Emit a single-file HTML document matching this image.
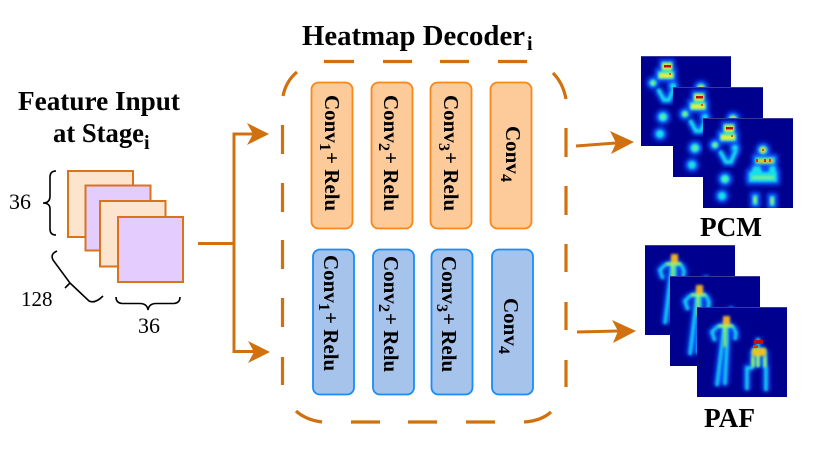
<!DOCTYPE html>
<html><head><meta charset="utf-8"><style>
html,body{margin:0;padding:0;background:#fff}
svg{display:block}
text{font-family:"Liberation Serif",serif;fill:#000}
.b{font-weight:bold}
.c{font-weight:bold;font-size:21px}
.s{font-weight:bold;font-size:16px}
</style></head><body>
<svg width="813" height="463" viewBox="0 0 813 463" xmlns="http://www.w3.org/2000/svg">
<defs>
<filter id="bl" x="-50%" y="-50%" width="200%" height="200%"><feGaussianBlur stdDeviation="1.200"/></filter>
<filter id="bl2" x="-50%" y="-50%" width="200%" height="200%"><feGaussianBlur stdDeviation="2"/></filter>
<clipPath id="cp"><rect width="90" height="90"/></clipPath>
<g id="pcmDots">
<rect x="21" y="6" width="10" height="9"/><rect x="17" y="15" width="16" height="8"/>
<circle cx="12" cy="27" r="3.500"/><circle cx="32" cy="30" r="3"/>
<circle cx="22" cy="61" r="4.500"/><circle cx="19" cy="78" r="4"/>
<circle cx="60" cy="32" r="4.500"/><rect x="52" y="39" width="20" height="7"/><rect x="46" y="54" width="28" height="10"/><path d="M51 48H57L60 56L65 56L67 48H72L74 58H46Z"/>
<rect x="50" y="77" width="4.500" height="10"/><rect x="67" y="78" width="4.500" height="10"/>
</g>
<g id="pcm">
<rect width="90" height="90" fill="#00008f"/>
<g clip-path="url(#cp)">
<use href="#pcmDots" fill="#0a55ff" stroke="#0a55ff" stroke-width="6" filter="url(#bl2)"/>
<path d="M17 33L23 44H28L33 32" fill="none" stroke="#0a60ff" stroke-width="8" filter="url(#bl2)"/>
<use href="#pcmDots" fill="#12dfe8" filter="url(#bl)"/>
<path d="M17 33L23 44H28L33 32" fill="none" stroke="#12dfe8" stroke-width="3.500" filter="url(#bl)"/>
<g filter="url(#bl)">
<rect x="21" y="7" width="10" height="7" fill="#d8e83a"/><rect x="18" y="17" width="14" height="5" fill="#e8ee3a"/>
<circle cx="22" cy="61" r="2.500" fill="#65f0a0"/><circle cx="12" cy="27" r="2" fill="#9bee70"/>
<circle cx="60" cy="32" r="3" fill="#f0d020"/><rect x="54" y="41" width="16" height="4" fill="#f2c020"/>
<rect x="49" y="58" width="22" height="3" fill="#80f090"/>
<rect x="51" y="79" width="2" height="6" fill="#e8e830"/><rect x="68" y="80" width="2" height="6" fill="#e8e830"/>
</g>
<rect x="23" y="9" width="7" height="2.500" fill="#c01010"/><rect x="28" y="17" width="2" height="2" fill="#e06010"/>
<circle cx="60" cy="32" r="1" fill="#d03010"/><rect x="53" y="41" width="2" height="3" fill="#d03010"/><rect x="61" y="41" width="2" height="3" fill="#d03010"/><rect x="66" y="41" width="2" height="3" fill="#e04010"/>
</g>
<path d="M0 0.500H90" stroke="#3a3a9a" stroke-width="1"/>
</g>
<g id="pafLines" fill="none">
<path d="M29 13V18M21 19H36M21 19L15 25L18 34M36 19L39 26L38 33M27 20L25 38L20 79M30 20L30 38L28 78"/>
<path d="M61 31V42M56 43H68M56 43V61M68 43V61M56 61H50V83M68 61H69V84M61 43V60"/>
</g>
<g id="paf">
<rect width="90" height="90" fill="#00008f"/>
<g clip-path="url(#cp)">
<use href="#pafLines" stroke="#0a55ff" stroke-width="7" filter="url(#bl2)"/>
<use href="#pafLines" stroke="#14dce8" stroke-width="2.800" filter="url(#bl)"/>
<g filter="url(#bl)">
<rect x="26" y="9" width="7" height="9" fill="#f0b020"/><path d="M21 19H36M28 20V40" stroke="#a8ee60" stroke-width="2.500" fill="none"/>
<rect x="55" y="41" width="14" height="8" fill="#f0c020"/><path d="M56 50V60M68 50V60M61 48V60" stroke="#b8ee50" stroke-width="2.500" fill="none"/>
</g>
<rect x="57" y="33" width="9" height="4" fill="#c01010"/><rect x="56" y="38" width="5" height="3" fill="#e03010"/>
</g>
<path d="M0 0.500H90" stroke="#3a3a9a" stroke-width="1"/>
</g>
</defs>

<!-- titles -->
<text class="b" x="302" y="45" font-size="28.500" textLength="223" lengthAdjust="spacingAndGlyphs">Heatmap Decoder</text>
<text class="b" x="527" y="50" font-size="20">i</text>
<text class="b" x="18" y="110" font-size="27" textLength="162" lengthAdjust="spacingAndGlyphs">Feature Input</text>
<text class="b" x="53" y="142" font-size="27" textLength="91" lengthAdjust="spacingAndGlyphs">at Stage</text>
<text class="b" x="144" y="149" font-size="20">i</text>

<!-- feature stack -->
<g stroke="#d9741a" stroke-width="2">
<rect x="68" y="171" width="65" height="66" fill="#fde4cf"/>
<rect x="85.500" y="185.500" width="65" height="65" fill="#e4ccff"/>
<rect x="100" y="201" width="65.500" height="65.500" fill="#fde4cf"/>
<rect x="118" y="217" width="65" height="65" fill="#e4ccff"/>
</g>
<g fill="none" stroke="#000" stroke-width="1.600">
<path d="M56 171Q50 171 50 177V196Q50 203 43 203Q50 203 50 209V229Q50 235 56 235"/>
<path d="M57 251Q50 254 53 260L70 283L65 288M70 283L89 301Q95 304 103 296"/>
<path d="M116 297Q116 303 122 303.500H140Q147 303.500 148 310Q149 303.500 156 303.500H174Q180 303 180 297"/>
</g>
<text x="9" y="209" font-size="22">36</text>
<text x="21" y="306" font-size="21">128</text>
<text x="138" y="333" font-size="22">36</text>

<!-- arrows -->
<g fill="none" stroke="#d1700f" stroke-width="3">
<path d="M198 243.500H234"/>
<path d="M262 134H234V351.500H262"/>
<path d="M576 146L616 143"/>
<path d="M577 332L618 331"/>
</g>
<g fill="#d1700f">
<path d="M247 123L269 134L247 145L253 134Z"/>
<path d="M248 341L270 352L248 363L254 352Z"/>
<path d="M610 131L634 142L611 154L616 143Z"/>
<path d="M612 320L636 331L613 343L618 331Z"/>
</g>

<!-- dashed container -->
<g fill="none" stroke="#d1700f" stroke-width="3.200">
<path d="M297 72Q286 81 283 96"/>
<path d="M324 61.500H354M383 61.500H412M440 61.500H469M498 61.500H527"/>
<path d="M553 73Q563 83 566 99"/>
<path d="M282.500 125V154M282.500 183V212M282.500 240V269M282.500 298V327M282.500 357V385"/>
<path d="M566 128V157M566 186V215M566 244V272M566 302V330M566 360V387"/>
<path d="M296 411Q306 420 322 422M351 422H380M408 422H437M466 422H495M524 422Q541 421 551 412"/>
</g>

<!-- conv boxes -->
<g fill="#fdca9a" stroke="#f9871a" stroke-width="1.800">
<rect x="311.500" y="82.500" width="41" height="146" rx="7"/>
<rect x="371.500" y="82.500" width="41" height="146" rx="7"/>
<rect x="430.500" y="82.500" width="41" height="146" rx="7"/>
<rect x="490.500" y="82.500" width="41" height="146" rx="7"/>
</g>
<g fill="#a6c3ec" stroke="#1a8cf5" stroke-width="1.800">
<rect x="313" y="249.500" width="41" height="145" rx="7"/>
<rect x="373" y="249.500" width="41" height="145" rx="7"/>
<rect x="431.500" y="249.500" width="41" height="145" rx="7"/>
<rect x="492" y="249.500" width="41" height="145" rx="7"/>
</g>

<text class="c" transform="translate(325,95) rotate(90)">Conv</text>
<text class="s" transform="translate(320,143) rotate(90)">1</text>
<text class="c" transform="translate(325,152) rotate(90)">+ Relu</text>
<text class="c" transform="translate(384,95) rotate(90)">Conv</text>
<text class="s" transform="translate(379,143) rotate(90)">2</text>
<text class="c" transform="translate(384,152) rotate(90)">+ Relu</text>
<text class="c" transform="translate(444,95) rotate(90)">Conv</text>
<text class="s" transform="translate(439,143) rotate(90)">3</text>
<text class="c" transform="translate(444,152) rotate(90)">+ Relu</text>
<text class="c" transform="translate(506,126) rotate(90)">Conv</text>
<text class="s" transform="translate(501,174) rotate(90)">4</text>

<text class="c" transform="translate(324,255) rotate(90)">Conv</text>
<text class="s" transform="translate(319,303) rotate(90)">1</text>
<text class="c" transform="translate(324,312) rotate(90)">+ Relu</text>
<text class="c" transform="translate(384,256) rotate(90)">Conv</text>
<text class="s" transform="translate(379,304) rotate(90)">2</text>
<text class="c" transform="translate(384,313) rotate(90)">+ Relu</text>
<text class="c" transform="translate(442,256) rotate(90)">Conv</text>
<text class="s" transform="translate(437,304) rotate(90)">3</text>
<text class="c" transform="translate(442,313) rotate(90)">+ Relu</text>
<text class="c" transform="translate(504,298) rotate(90)">Conv</text>
<text class="s" transform="translate(499,346) rotate(90)">4</text>

<!-- heatmaps -->
<use href="#pcm" x="641" y="56"/>
<use href="#pcm" x="673" y="87"/>
<use href="#pcm" x="703" y="118"/>
<use href="#paf" x="645" y="245"/>
<use href="#paf" x="670" y="276"/>
<use href="#paf" x="697" y="307"/>

<text class="b" x="700" y="236" font-size="27" textLength="62" lengthAdjust="spacingAndGlyphs">PCM</text>
<text class="b" x="704" y="427" font-size="27" textLength="51" lengthAdjust="spacingAndGlyphs">PAF</text>
</svg>
</body></html>
